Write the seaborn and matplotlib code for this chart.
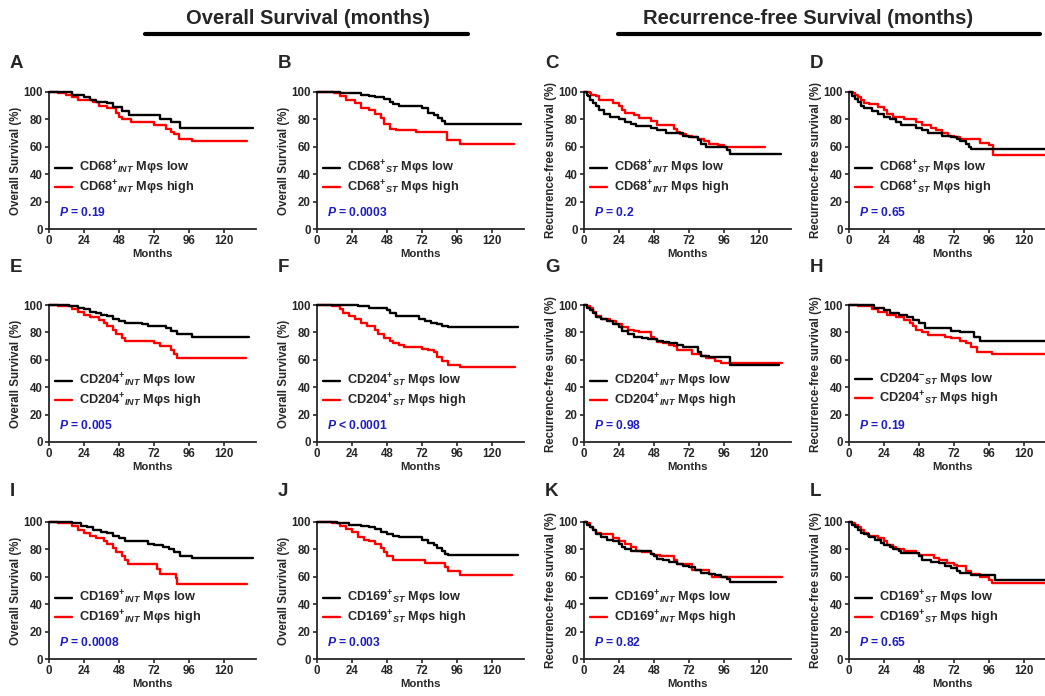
import matplotlib
matplotlib.use('Agg')
import matplotlib.pyplot as plt
from matplotlib.lines import Line2D
import seaborn as sns

# ---- Kaplan-Meier curves (months, survival %) ----
A_low_t = [0, 16, 24, 28, 32, 40, 44, 50, 55, 76, 84, 90, 140]
A_low_s = [100, 98, 96, 94, 93, 92, 89, 86, 83, 80.5, 78, 73.5, 73.5]
A_high_t = [0, 6, 12, 16, 20, 30, 34, 40, 46, 48, 50, 56, 72, 80, 84, 86, 89, 98, 136]
A_high_s = [100, 99.5, 98, 96, 94, 92.5, 90, 88, 85, 82, 80, 78, 76, 73, 71, 69, 66, 64, 64]

B_low_t = [0, 16, 30, 36, 40, 46, 50, 52, 56, 72, 76, 80, 83, 86, 88, 140]
B_low_s = [100, 99, 98, 97, 96, 95, 93, 91, 90, 88, 85, 83, 81, 79, 77, 77]
B_high_t = [0, 12, 16, 20, 26, 30, 36, 40, 44, 46, 50, 54, 68, 89, 98, 135]
B_high_s = [100, 99, 97, 94.5, 92, 88.5, 87, 84, 81, 77, 73, 72, 70.5, 65, 62, 62]

C_low_t = [0, 2, 3, 4, 6, 8, 10, 14, 18, 24, 28, 32, 36, 46, 50, 56, 68, 72, 78, 80, 84, 98, 100, 135]
C_low_s = [100, 98, 97, 94, 92, 90, 87, 84, 82, 80, 78, 77, 75, 74, 72, 70, 68, 67, 65, 62, 60, 58, 55, 55]
C_high_t = [0, 4, 5, 8, 10, 20, 24, 26, 28, 34, 38, 46, 50, 62, 64, 66, 70, 74, 78, 82, 86, 92, 96, 124]
C_high_s = [100, 99, 98, 97, 94, 92, 90, 87, 85, 83, 81, 79, 76, 73, 71, 69, 68, 67, 66, 64, 62, 61, 59.5, 59.5]

D_low_t = [0, 2, 4, 6, 8, 10, 16, 20, 24, 28, 32, 36, 46, 50, 54, 64, 70, 74, 76, 80, 82, 84, 142]
D_low_s = [100, 97, 95, 93, 90, 88, 86, 84, 82, 80, 78, 76, 74, 72, 70, 68, 67, 66, 64, 62, 60, 58.5, 58.5]
D_high_t = [0, 3, 4, 6, 8, 10, 14, 20, 24, 26, 30, 38, 46, 50, 56, 60, 64, 68, 72, 76, 90, 96, 99, 142]
D_high_s = [100, 99, 98, 96, 94, 92, 91, 89, 87, 84, 82, 80, 78, 76, 74, 72, 70, 68, 67, 66, 63, 61, 54, 54]

E_low_t = [0, 14, 16, 20, 24, 28, 32, 36, 40, 44, 48, 52, 64, 68, 80, 84, 88, 98, 137]
E_low_s = [100, 99.5, 99, 98, 97, 95, 94, 93, 92, 90, 88, 87, 86, 85, 83, 81, 79, 77, 77]
E_high_t = [0, 6, 10, 16, 20, 24, 28, 34, 38, 40, 44, 46, 50, 52, 72, 76, 84, 86, 88, 135]
E_high_s = [100, 99.5, 99, 97, 95, 93, 91, 89, 87, 85, 82, 79, 76, 74, 72, 70, 67, 64, 61.5, 61.5]

F_low_t = [0, 28, 30, 36, 48, 50, 54, 70, 74, 78, 82, 86, 90, 138]
F_low_s = [100, 99.5, 99, 97.5, 96, 94, 92, 90, 88, 87, 86, 85, 84, 84]
F_high_t = [0, 10, 12, 16, 18, 22, 26, 30, 34, 40, 42, 46, 50, 52, 56, 60, 72, 76, 80, 82, 86, 90, 98, 136]
F_high_s = [100, 99.5, 99, 97, 94, 92, 90, 87, 85, 82, 79, 76, 74, 72, 71, 69.5, 68, 67, 66, 62, 59, 56, 54.5, 54.5]

G_low_t = [0, 2, 4, 6, 8, 12, 16, 20, 24, 26, 30, 34, 40, 44, 50, 54, 58, 64, 68, 78, 80, 86, 100, 134]
G_low_s = [100, 98, 96, 94, 91, 90, 88, 86, 84, 81, 79, 77, 76, 75, 74, 73, 72, 71, 69.5, 66, 63, 62, 56, 56]
G_high_t = [0, 2, 4, 6, 8, 12, 18, 22, 26, 30, 34, 38, 46, 48, 50, 54, 58, 62, 64, 74, 80, 84, 90, 94, 100, 136]
G_high_s = [100, 99, 98, 95, 92, 90, 88, 86, 84, 82, 81, 80, 77, 75, 73, 72, 71, 70, 67, 64, 63, 61, 59, 58, 57.5, 57.5]

H_low_t = [0, 17, 24, 28, 34, 40, 44, 48, 52, 70, 76, 86, 90, 142]
H_low_s = [100, 98, 96, 94, 93, 91.5, 89, 87, 83, 81, 80, 77, 73.5, 73.5]
H_high_t = [0, 6, 12, 16, 20, 26, 32, 38, 42, 44, 46, 50, 54, 66, 70, 76, 80, 84, 88, 98, 142]
H_high_s = [100, 99.5, 99, 97, 95, 93, 91, 89, 87, 85, 82, 80, 78, 77, 76, 74, 72, 69, 66, 64, 64]

I_low_t = [0, 16, 18, 22, 26, 30, 36, 40, 44, 48, 52, 68, 72, 78, 82, 86, 90, 98, 140]
I_low_s = [100, 99.5, 99, 97, 96, 94, 93, 92, 90, 88, 86, 84, 83, 82, 80, 78, 75.5, 74, 74]
I_high_t = [0, 6, 12, 16, 20, 24, 28, 32, 38, 40, 44, 46, 50, 52, 54, 74, 76, 87, 88, 136]
I_high_s = [100, 99.5, 99, 97, 94, 92, 90, 88, 86, 84, 81, 78, 75, 72, 69, 66, 62, 59, 55, 55]

J_low_t = [0, 14, 16, 22, 30, 36, 40, 44, 48, 52, 56, 72, 76, 80, 82, 86, 88, 90, 138]
J_low_s = [100, 99.5, 99, 98, 97, 96, 95, 93, 91, 90, 89, 87, 85, 83, 81, 79, 77, 76, 76]
J_high_t = [0, 10, 12, 16, 20, 24, 28, 32, 36, 40, 44, 46, 48, 52, 74, 88, 90, 98, 134]
J_high_s = [100, 99.5, 99, 97, 95, 93, 89, 87, 86, 84, 81, 78, 75, 72, 70, 67, 64, 61.5, 61.5]

K_low_t = [0, 2, 4, 6, 8, 12, 16, 20, 24, 26, 28, 32, 46, 48, 50, 54, 58, 64, 68, 72, 76, 80, 86, 90, 94, 98, 100, 132]
K_low_s = [100, 98, 96, 94, 91, 89, 87, 86, 84, 82, 80, 78.5, 77, 75, 73, 72, 71, 69, 68, 67, 65, 63, 62, 61, 60, 58.5, 56.5, 56.5]
K_high_t = [0, 2, 4, 6, 8, 12, 20, 24, 28, 32, 36, 40, 46, 48, 52, 62, 64, 74, 86, 88, 136]
K_high_s = [100, 99, 96, 94, 92, 91, 88, 86, 84, 82, 79, 78, 77, 76, 75, 72, 69, 65, 62, 59.5, 59.5]

L_low_t = [0, 2, 4, 6, 8, 10, 14, 18, 22, 24, 28, 30, 34, 36, 48, 50, 56, 62, 66, 70, 74, 76, 84, 100, 142]
L_low_s = [100, 98, 96, 94, 92, 91, 89, 87, 85, 83.5, 82, 80, 79, 77.5, 75, 72.5, 71, 70, 68, 66.5, 64, 63, 61, 58, 58]
L_high_t = [0, 2, 4, 6, 8, 10, 13, 20, 24, 26, 30, 32, 38, 46, 48, 58, 62, 67, 72, 74, 80, 84, 90, 96, 98, 142]
L_high_s = [100, 99, 98, 96, 94, 92, 90, 88.3, 86, 83.5, 82, 80.5, 78.6, 77.4, 75.7, 73.7, 72, 70, 68.5, 67.6, 64, 62.3, 60, 58, 55.5, 55.5]

letters = ['A', 'B', 'C', 'D', 'E', 'F', 'G', 'H', 'I', 'J', 'K', 'L']
markers = ['CD68'] * 4 + ['CD204'] * 4 + ['CD169'] * 4
subs = ['INT', 'ST', 'INT', 'ST'] * 3
low_sign = ['+'] * 7 + ['-'] + ['+'] * 4
ylabels = ['Overall Survival (%)'] * 2 + ['Recurrence-free survival (%)'] * 2
p_texts = ['= 0.19', '= 0.0003', '= 0.2', '= 0.65',
           '= 0.005', '< 0.0001', '= 0.98', '= 0.19',
           '= 0.0008', '= 0.003', '= 0.82', '= 0.65']
curves = [(A_low_t, A_low_s, A_high_t, A_high_s), (B_low_t, B_low_s, B_high_t, B_high_s),
          (C_low_t, C_low_s, C_high_t, C_high_s), (D_low_t, D_low_s, D_high_t, D_high_s),
          (E_low_t, E_low_s, E_high_t, E_high_s), (F_low_t, F_low_s, F_high_t, F_high_s),
          (G_low_t, G_low_s, G_high_t, G_high_s), (H_low_t, H_low_s, H_high_t, H_high_s),
          (I_low_t, I_low_s, I_high_t, I_high_s), (J_low_t, J_low_s, J_high_t, J_high_s),
          (K_low_t, K_low_s, K_high_t, K_high_s), (L_low_t, L_low_s, L_high_t, L_high_s)]

sns.set_style('ticks')
plt.rcParams['font.family'] = ['Liberation Sans', 'DejaVu Sans']
plt.rcParams['font.weight'] = 'bold'
plt.rcParams['axes.labelweight'] = 'bold'
plt.rcParams['mathtext.fontset'] = 'custom'
plt.rcParams['mathtext.rm'] = 'Liberation Sans:bold'
plt.rcParams['mathtext.it'] = 'Liberation Sans:italic:bold'
plt.rcParams['mathtext.bf'] = 'Liberation Sans:bold'

W, H = 1045, 696
fig = plt.figure(figsize=(W / 100, H / 100), dpi=100)

col_x = [49, 317, 584, 849]    # pixel x of month 0
row_top = [92, 305, 522]       # pixel y of 100 %
ax_w, ax_h = 207, 137
let_x = [10, 278, 545, 810]
let_y = [64, 267, 491]

for i in range(12):
    r, c = divmod(i, 4)
    ax = fig.add_axes([col_x[c] / W, 1 - (row_top[r] + ax_h) / H, ax_w / W, ax_h / H])
    lt, ls, ht, hs = curves[i]
    lab = markers[i] + r'$^{%s}$$_{\mathit{%s}}$' % (low_sign[i], subs[i]) + ' Mφs low'
    lab2 = markers[i] + r'$^{+}$$_{\mathit{%s}}$' % subs[i] + ' Mφs high'
    sns.lineplot(x=lt, y=ls, ax=ax, color='black', lw=1.7, drawstyle='steps-post',
                 estimator=None, label=lab, clip_on=False, zorder=3)
    sns.lineplot(x=ht, y=hs, ax=ax, color='red', lw=1.7, drawstyle='steps-post',
                 estimator=None, label=lab2, clip_on=False, zorder=2)
    ax.set_xlim(0, 142)
    ax.set_ylim(0, 100)
    ax.set_xticks([0, 24, 48, 72, 96, 120])
    ax.set_yticks([0, 20, 40, 60, 80, 100])
    sns.despine(ax=ax)
    for sp in ['left', 'bottom']:
        ax.spines[sp].set_linewidth(1.3)
    ax.tick_params(direction='out', length=3, width=1.2, labelsize=8.3, pad=1.5)
    ax.set_xlabel('Months', fontsize=8.2, labelpad=1)
    ax.set_ylabel(ylabels[c], fontsize=8.3, labelpad=1)
    ax.legend(loc='upper left', bbox_to_anchor=(0.03, 0.51), frameon=False, fontsize=9.2,
              handlelength=1.35, handletextpad=0.55, labelspacing=0.1,
              borderpad=0, borderaxespad=0)
    ax.text(0.05, 0.12, r'$P$ ' + p_texts[i], transform=ax.transAxes, color='#1c1cc8',
            fontsize=8.7, va='center')
    fig.text(let_x[c] / W, 1 - let_y[r] / H, letters[i], fontsize=13.5, va='center', ha='left')

# column-group headers with underline bars
fig.text(308 / W, 1 - 18 / H, 'Overall Survival (months)', ha='center', va='center', fontsize=14.5)
fig.text(808 / W, 1 - 18 / H, 'Recurrence-free Survival (months)', ha='center', va='center', fontsize=14.5)
fig.add_artist(Line2D([145 / W, 468 / W], [1 - 34 / H] * 2, color='black', lw=3))
fig.add_artist(Line2D([618 / W, 1040 / W], [1 - 34 / H] * 2, color='black', lw=3))

fig.savefig('out.png', dpi=100)
